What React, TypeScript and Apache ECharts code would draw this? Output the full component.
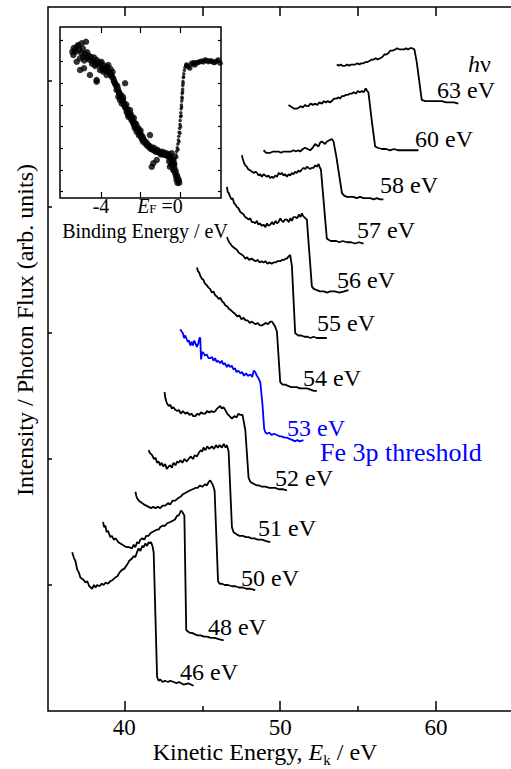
import React, { useEffect, useRef } from "react";
import * as echarts from "echarts";

const FONT = "'Liberation Serif', 'Times New Roman', 'DejaVu Serif', serif";

// ---- axis ticks / labels ----
const kineticMajorTicks = [40, 50, 60];
const kineticMinorTicks = [45, 55];
const kineticTopTicks = [40, 45, 50, 55, 60];
const intensityTicks = [1, 2, 3, 4, 5];
const bindingTicks = [-4, -2, 0];
const bindingLabels = [-4, 0];
const insetIntensityTicks = [0, 1, 2, 3, 4, 5, 6, 7];

// ---- spectra: [kinetic energy (eV), intensity (arb. units, offset)] ----
const photonEnergyLabels = ["46 eV", "48 eV", "50 eV", "51 eV", "52 eV", "53 eV", "54 eV", "55 eV", "56 eV", "57 eV", "58 eV", "60 eV", "63 eV"];

const spec46: [number, number][] = [[36.65,1.26],[36.75,1.22],[36.86,1.19],[36.98,1.12],[37.08,1.10],[37.18,1.06],[37.28,1.05],[37.39,1.04],[37.5,1.02],[37.62,1.03],[37.75,0.99],[37.93,0.97],[38.05,1.00],[38.15,0.98],[38.25,1.00],[38.4,0.99],[38.55,1.01],[38.67,1.00],[38.8,1.02],[38.95,1.01],[39.10,1.03],[39.25,1.04],[39.42,1.06],[39.55,1.07],[39.7,1.10],[39.85,1.12],[40.0,1.13],[40.17,1.16],[40.3,1.19],[40.49,1.21],[40.6,1.23],[40.7,1.22],[40.81,1.26],[40.92,1.29],[41.03,1.27],[41.14,1.31],[41.24,1.30],[41.35,1.33],[41.46,1.31],[41.56,1.34],[41.65,1.33],[41.71,1.34],[41.8,1.31],[41.88,1.26],[42.10,0.27],[42.2,0.24],[42.31,0.25],[42.45,0.23],[42.6,0.24],[42.8,0.23],[42.95,0.24],[43.16,0.23],[43.35,0.22],[43.5,0.23],[43.8,0.21],[44.1,0.22],[44.44,0.20]];

const spec48: [number, number][] = [[38.63,1.50],[38.7,1.46],[38.78,1.47],[38.86,1.42],[38.95,1.43],[39.10,1.38],[39.2,1.39],[39.32,1.36],[39.45,1.37],[39.6,1.34],[39.74,1.33],[39.88,1.32],[40.0,1.31],[40.15,1.30],[40.3,1.30],[40.49,1.29],[40.6,1.32],[40.7,1.30],[40.82,1.34],[40.92,1.33],[41.03,1.36],[41.15,1.37],[41.28,1.36],[41.4,1.39],[41.55,1.39],[41.67,1.41],[41.8,1.42],[41.95,1.43],[42.1,1.44],[42.2,1.44],[42.31,1.46],[42.45,1.47],[42.6,1.47],[42.75,1.49],[42.95,1.50],[43.1,1.51],[43.25,1.52],[43.38,1.55],[43.48,1.55],[43.56,1.57],[43.63,1.59],[43.72,1.58],[43.85,1.55],[43.97,0.64],[44.1,0.63],[44.2,0.62],[44.34,0.62],[44.5,0.61],[44.7,0.60],[44.9,0.60],[45.1,0.59],[45.3,0.59],[45.55,0.58],[45.8,0.58],[46.05,0.57],[46.37,0.56]];

const spec50: [number, number][] = [[40.71,1.74],[40.76,1.71],[40.81,1.69],[40.92,1.67],[41.02,1.66],[41.13,1.65],[41.25,1.64],[41.4,1.63],[41.56,1.62],[41.7,1.61],[41.85,1.62],[41.99,1.61],[42.15,1.62],[42.3,1.61],[42.45,1.63],[42.63,1.63],[42.8,1.65],[42.95,1.64],[43.1,1.67],[43.27,1.67],[43.45,1.69],[43.6,1.70],[43.75,1.72],[43.91,1.73],[44.05,1.74],[44.2,1.75],[44.38,1.76],[44.55,1.77],[44.7,1.77],[44.85,1.79],[45.0,1.78],[45.19,1.80],[45.3,1.79],[45.42,1.82],[45.51,1.83],[45.6,1.81],[45.66,1.80],[45.79,1.75],[46.01,1.03],[46.12,1.01],[46.26,1.01],[46.45,1.00],[46.65,1.00],[46.9,0.99],[47.12,0.99],[47.35,0.98],[47.6,0.98],[47.85,0.97],[48.1,0.97],[48.40,0.96]];

const spec51: [number, number][] = [[41.56,2.07],[41.62,2.05],[41.70,2.04],[41.78,2.03],[41.9,2.00],[42.0,2.01],[42.1,1.97],[42.2,1.98],[42.3,1.95],[42.4,1.97],[42.5,1.94],[42.62,1.96],[42.72,1.92],[42.84,1.94],[42.95,1.95],[43.05,1.93],[43.15,1.97],[43.28,1.95],[43.38,1.98],[43.48,1.97],[43.6,1.99],[43.72,1.97],[43.85,2.00],[44.0,1.98],[44.12,2.00],[44.25,2.02],[44.4,2.00],[44.52,2.03],[44.66,2.02],[44.78,2.05],[44.9,2.07],[45.0,2.06],[45.08,2.09],[45.2,2.07],[45.32,2.10],[45.45,2.08],[45.62,2.10],[45.75,2.08],[45.88,2.11],[46.0,2.09],[46.12,2.11],[46.26,2.09],[46.38,2.12],[46.5,2.09],[46.58,2.11],[46.69,2.06],[46.90,1.46],[47.0,1.42],[47.1,1.41],[47.22,1.40],[47.4,1.39],[47.6,1.39],[47.8,1.38],[47.97,1.38],[48.15,1.37],[48.35,1.37],[48.55,1.36],[48.83,1.36],[49.05,1.35],[49.36,1.34]];

const spec52: [number, number][] = [[42.58,2.53],[42.62,2.49],[42.68,2.46],[42.74,2.44],[42.85,2.42],[42.95,2.43],[43.05,2.40],[43.15,2.41],[43.27,2.39],[43.4,2.38],[43.5,2.39],[43.62,2.36],[43.75,2.38],[43.91,2.36],[44.05,2.37],[44.18,2.35],[44.3,2.36],[44.42,2.34],[44.55,2.34],[44.68,2.36],[44.8,2.35],[44.92,2.37],[45.05,2.36],[45.19,2.36],[45.3,2.38],[45.45,2.37],[45.6,2.38],[45.72,2.37],[45.83,2.38],[45.95,2.40],[46.05,2.41],[46.15,2.42],[46.25,2.40],[46.36,2.41],[46.47,2.39],[46.6,2.36],[46.75,2.34],[46.90,2.32],[47.05,2.34],[47.2,2.33],[47.32,2.36],[47.44,2.35],[47.58,2.35],[47.76,2.23],[47.97,1.85],[48.08,1.82],[48.19,1.81],[48.35,1.80],[48.5,1.79],[48.65,1.79],[48.83,1.78],[49.05,1.78],[49.3,1.77],[49.5,1.77],[49.68,1.77],[49.9,1.76],[50.15,1.76],[50.43,1.75]];

const spec53: [number, number][] = [[43.59,3.03],[43.68,3.01],[43.75,3.00],[43.83,2.96],[43.91,2.98],[44.0,2.95],[44.08,2.93],[44.15,2.94],[44.23,2.90],[44.32,2.93],[44.4,2.90],[44.48,2.94],[44.55,2.92],[44.65,2.89],[44.75,2.92],[44.82,2.96],[44.87,2.96],[44.92,2.79],[45.0,2.85],[45.08,2.84],[45.18,2.82],[45.28,2.83],[45.4,2.80],[45.51,2.80],[45.62,2.81],[45.72,2.78],[45.82,2.80],[45.92,2.77],[46.02,2.78],[46.15,2.76],[46.25,2.78],[46.35,2.75],[46.45,2.76],[46.58,2.73],[46.68,2.75],[46.79,2.73],[46.9,2.74],[47.0,2.71],[47.1,2.72],[47.2,2.69],[47.32,2.70],[47.44,2.68],[47.55,2.69],[47.68,2.66],[47.8,2.68],[47.92,2.66],[48.08,2.67],[48.2,2.65],[48.3,2.70],[48.40,2.69],[48.5,2.66],[48.61,2.64],[48.72,2.61],[48.85,2.45],[48.97,2.24],[49.05,2.21],[49.15,2.20],[49.3,2.21],[49.45,2.19],[49.6,2.20],[49.79,2.19],[49.95,2.18],[50.1,2.18],[50.28,2.17],[50.43,2.17],[50.6,2.16],[50.8,2.15],[50.96,2.14],[51.1,2.15],[51.25,2.14],[51.49,2.15]];

const spec54: [number, number][] = [[44.66,3.52],[44.72,3.49],[44.8,3.48],[44.88,3.45],[44.98,3.43],[45.08,3.42],[45.18,3.39],[45.28,3.38],[45.40,3.36],[45.5,3.35],[45.62,3.32],[45.72,3.33],[45.82,3.30],[45.94,3.29],[46.05,3.27],[46.15,3.28],[46.28,3.25],[46.38,3.24],[46.47,3.22],[46.6,3.21],[46.72,3.19],[46.85,3.18],[47.01,3.16],[47.12,3.15],[47.25,3.13],[47.38,3.14],[47.5,3.11],[47.65,3.12],[47.78,3.10],[47.9,3.10],[48.05,3.08],[48.18,3.09],[48.29,3.08],[48.42,3.07],[48.55,3.08],[48.7,3.06],[48.83,3.06],[48.95,3.07],[49.1,3.08],[49.22,3.07],[49.36,3.09],[49.48,3.09],[49.58,3.07],[49.68,3.05],[49.79,3.01],[50.00,2.61],[50.15,2.59],[50.32,2.59],[50.5,2.58],[50.7,2.57],[50.9,2.57],[51.07,2.57],[51.25,2.56],[51.45,2.56],[51.71,2.56],[51.95,2.55],[52.15,2.54],[52.35,2.54]];

const spec55: [number, number][] = [[46.58,3.76],[46.65,3.74],[46.72,3.72],[46.79,3.71],[46.9,3.69],[47.0,3.68],[47.1,3.67],[47.22,3.66],[47.32,3.64],[47.42,3.63],[47.55,3.62],[47.65,3.61],[47.75,3.59],[47.88,3.60],[48.0,3.58],[48.15,3.59],[48.29,3.58],[48.42,3.57],[48.55,3.58],[48.68,3.56],[48.8,3.57],[48.93,3.56],[49.05,3.57],[49.18,3.55],[49.3,3.56],[49.45,3.55],[49.57,3.56],[49.7,3.56],[49.82,3.57],[50.00,3.57],[50.12,3.58],[50.25,3.58],[50.35,3.59],[50.43,3.59],[50.55,3.61],[50.64,3.62],[50.75,3.53],[50.96,3.00],[51.05,2.99],[51.17,2.98],[51.35,2.98],[51.55,2.97],[51.75,2.97],[51.95,2.96],[52.13,2.97],[52.35,2.96],[52.6,2.96],[52.8,2.96],[52.99,2.96]];

const spec56: [number, number][] = [[46.58,4.16],[46.63,4.12],[46.7,4.11],[46.79,4.08],[46.88,4.06],[46.95,4.07],[47.04,4.03],[47.12,4.02],[47.22,4.00],[47.32,3.99],[47.44,3.96],[47.55,3.95],[47.65,3.94],[47.75,3.92],[47.87,3.91],[47.98,3.90],[48.08,3.91],[48.18,3.88],[48.29,3.88],[48.4,3.87],[48.5,3.89],[48.6,3.86],[48.7,3.87],[48.82,3.85],[48.93,3.86],[49.05,3.84],[49.15,3.87],[49.25,3.85],[49.36,3.86],[49.48,3.88],[49.58,3.86],[49.7,3.89],[49.8,3.87],[49.89,3.88],[50.00,3.91],[50.1,3.89],[50.2,3.88],[50.3,3.90],[50.43,3.90],[50.55,3.88],[50.65,3.91],[50.75,3.89],[50.85,3.92],[50.96,3.92],[51.08,3.91],[51.2,3.94],[51.3,3.92],[51.39,3.95],[51.46,3.93],[51.54,3.92],[51.71,3.90],[52.03,3.37],[52.15,3.35],[52.35,3.34],[52.55,3.33],[52.8,3.33],[53.0,3.32],[53.21,3.33],[53.5,3.33],[53.8,3.32],[54.1,3.33],[54.38,3.34]];

const spec57: [number, number][] = [[47.54,4.41],[47.6,4.38],[47.68,4.35],[47.76,4.33],[47.85,4.32],[47.95,4.30],[48.08,4.29],[48.2,4.28],[48.32,4.27],[48.42,4.28],[48.51,4.27],[48.62,4.25],[48.72,4.26],[48.82,4.24],[48.93,4.26],[49.04,4.25],[49.15,4.24],[49.25,4.25],[49.36,4.23],[49.47,4.24],[49.57,4.23],[49.68,4.25],[49.8,4.24],[49.9,4.27],[50.0,4.26],[50.11,4.27],[50.22,4.25],[50.32,4.26],[50.43,4.24],[50.54,4.26],[50.64,4.25],[50.75,4.27],[50.85,4.26],[50.96,4.28],[51.06,4.27],[51.17,4.29],[51.28,4.28],[51.4,4.30],[51.5,4.31],[51.6,4.30],[51.71,4.32],[51.82,4.31],[51.92,4.30],[52.02,4.31],[52.13,4.31],[52.25,4.33],[52.35,4.32],[52.46,4.34],[52.55,4.31],[52.61,4.30],[52.99,3.75],[53.1,3.74],[53.25,3.73],[53.42,3.73],[53.6,3.73],[53.8,3.72],[54.0,3.73],[54.28,3.72],[54.55,3.72],[54.8,3.71],[55.05,3.72],[55.34,3.71]];

const spec58: [number, number][] = [[48.93,4.45],[49.1,4.43],[49.25,4.43],[49.36,4.43],[49.55,4.44],[49.75,4.44],[49.89,4.44],[50.05,4.43],[50.21,4.44],[50.4,4.44],[50.53,4.44],[50.7,4.44],[50.85,4.45],[51.0,4.44],[51.17,4.45],[51.28,4.44],[51.45,4.46],[51.60,4.47],[51.75,4.46],[51.92,4.45],[52.08,4.47],[52.24,4.50],[52.35,4.49],[52.46,4.48],[52.56,4.51],[52.67,4.52],[52.78,4.51],[52.88,4.50],[53.0,4.52],[53.15,4.53],[53.31,4.54],[53.42,4.52],[53.6,4.40],[53.96,4.11],[54.1,4.09],[54.28,4.08],[54.5,4.08],[54.7,4.08],[54.9,4.07],[55.13,4.08],[55.34,4.07],[55.55,4.07],[55.77,4.07],[56.0,4.06],[56.2,4.07],[56.4,4.06],[56.62,4.06]];

const spec60: [number, number][] = [[50.53,4.81],[50.65,4.80],[50.78,4.79],[50.9,4.78],[51.07,4.78],[51.2,4.79],[51.32,4.80],[51.45,4.79],[51.6,4.81],[51.7,4.80],[51.81,4.80],[51.95,4.82],[52.1,4.81],[52.25,4.82],[52.38,4.81],[52.52,4.83],[52.67,4.82],[52.8,4.84],[52.92,4.83],[53.05,4.84],[53.18,4.83],[53.31,4.84],[53.45,4.86],[53.6,4.86],[53.75,4.87],[53.85,4.86],[53.96,4.88],[54.1,4.88],[54.22,4.89],[54.35,4.89],[54.48,4.90],[54.60,4.90],[54.72,4.91],[54.85,4.90],[54.98,4.92],[55.1,4.91],[55.24,4.92],[55.35,4.91],[55.49,4.94],[55.58,4.92],[55.66,4.91],[55.88,4.68],[56.09,4.48],[56.25,4.47],[56.52,4.46],[56.8,4.46],[57.05,4.45],[57.3,4.46],[57.58,4.45],[57.85,4.45],[58.1,4.45],[58.35,4.45],[58.6,4.45],[58.87,4.45]];

const spec63: [number, number][] = [[53.63,5.13],[53.75,5.12],[53.88,5.13],[54.0,5.12],[54.17,5.12],[54.3,5.13],[54.42,5.12],[54.55,5.13],[54.68,5.13],[54.81,5.13],[54.95,5.14],[55.08,5.13],[55.2,5.14],[55.34,5.14],[55.48,5.15],[55.6,5.15],[55.75,5.16],[55.88,5.17],[56.0,5.17],[56.12,5.18],[56.25,5.17],[56.41,5.18],[56.55,5.19],[56.68,5.21],[56.8,5.21],[56.94,5.22],[57.05,5.24],[57.2,5.24],[57.37,5.25],[57.5,5.26],[57.65,5.25],[57.80,5.25],[57.95,5.25],[58.08,5.26],[58.2,5.25],[58.33,5.26],[58.47,5.26],[58.61,5.25],[58.76,5.15],[59.08,4.85],[59.3,4.84],[59.51,4.84],[59.75,4.84],[60.0,4.84],[60.37,4.84],[60.65,4.83],[60.9,4.83],[61.15,4.83],[61.43,4.82]];

const spectra = [spec46, spec48, spec50, spec51, spec52, spec53, spec54, spec55, spec56, spec57, spec58, spec60, spec63];

// ---- inset: binding energy (eV) vs intensity (arb. units) ----
const insetValence: [number, number][] = [[-5.32,6.53],[-5.15,6.76],[-4.98,6.84],[-4.76,6.91],[-5.40,6.30],[-5.28,6.45],[-5.0,6.40],[-5.23,5.99],[-5.06,6.15],[-4.90,6.22],[-4.85,6.05],[-4.69,6.15],[-4.6,6.25],[-4.56,6.07],[-4.45,5.90],[-4.39,5.99],[-4.3,5.80],[-4.22,6.07],[-4.15,5.95],[-4.05,5.92],[-3.95,5.70],[-3.88,5.84],[-3.8,5.60],[-3.71,5.76],[-3.63,5.84],[-3.6,5.50],[-5.06,5.61],[-4.86,5.69],[-4.56,5.38],[-4.22,5.15],[-4.22,5.07],[-4.05,5.61],[-3.88,5.53],[-3.71,5.38],[-3.54,5.46],[-3.45,5.30],[-3.38,5.23],[-3.35,5.10],[-3.29,5.00],[-3.25,4.90],[-3.21,4.69],[-3.15,4.75],[-3.12,4.38],[-3.08,4.55],[-2.78,5.00],[-3.04,4.23],[-2.98,4.45],[-2.95,4.07],[-2.9,4.25],[-2.85,4.10],[-2.78,3.92],[-2.75,3.85],[-2.70,3.69],[-2.65,3.60],[-2.53,3.76],[-2.58,3.55],[-2.62,3.46],[-2.50,3.40],[-2.45,3.30],[-2.40,3.25],[-2.36,3.15],[-2.32,3.05],[-2.28,2.92],[-2.25,3.00],[-2.19,2.76],[-2.15,2.85],[-2.08,2.60],[-2.03,2.69],[-1.98,2.55],[-1.94,2.46],[-1.90,2.40],[-1.52,2.61],[-1.86,2.30],[-1.78,2.25],[-1.69,2.15],[-1.62,2.10],[-1.52,2.00],[-1.45,1.98],[-1.35,1.92],[-1.28,1.90],[-1.18,1.84],[-1.10,1.82],[-1.01,1.80],[-0.92,1.75],[-0.85,1.77],[-0.75,1.72],[-0.67,1.69],[-0.60,1.62],[-0.51,1.61],[-0.42,1.77],[-1.43,1.15],[-1.35,1.31],[-1.18,1.46],[-0.55,1.40],[-0.45,1.25],[-0.34,1.46],[-0.51,1.15],[-0.34,1.00],[-0.28,1.10],[-0.25,0.85],[-0.20,0.70],[-0.17,0.54],[-0.10,0.60],[-0.04,0.41],
  [-5.45,6.45],[-5.38,6.62],[-5.2,6.70],[-5.1,6.55],[-4.92,6.60],[-4.8,6.35],[-4.7,6.42],[-4.5,6.20],[-4.35,6.18],[-4.28,5.88],[-4.1,5.85],[-3.98,5.98],[-3.9,5.66],[-3.75,5.72],[-3.66,5.58],[-3.52,5.65],[-3.48,5.38],[-3.42,5.52],[-3.32,5.05],[-3.18,4.88],[-3.1,4.62],[-3.02,4.40],[-2.92,4.18],[-2.88,4.35],[-2.82,3.98],[-2.72,4.02],[-2.66,3.80],[-2.56,3.62],[-2.48,3.55],[-2.42,3.38],[-2.34,3.40],[-2.3,3.18],[-2.22,3.12],[-2.12,2.95],[-2.06,2.78],[-2.0,2.82],[-1.96,2.62],[-1.88,2.52],[-1.82,2.38],[-1.74,2.30],[-1.66,2.22],[-1.58,2.12],[-1.5,2.08],[-1.42,1.96],[-1.32,2.02],[-1.25,1.86],[-1.15,1.93],[-1.05,1.85],[-0.97,1.72],[-0.88,1.84],[-0.8,1.70],[-0.72,1.78],[-0.64,1.66],[-0.58,1.74],[-0.48,1.52],[-0.4,1.60],[-0.38,1.32],[-0.3,1.25],[-0.22,0.95],[-0.15,0.75],[-0.12,0.40],[-0.06,0.52]];

const insetEdge: [number, number][] = [[-0.36,0.98],[-0.32,1.10],[-0.29,1.25],[-0.26,1.40],[-0.23,1.55],[-0.2,1.70],[-0.17,1.86],[-0.14,2.02],[-0.11,2.20],[-0.08,2.38],[-0.06,2.56],[-0.04,2.74],[-0.02,2.92],[0.0,3.10],[0.01,3.28],[0.03,3.46],[0.04,3.64],[0.06,3.82],[0.07,4.00],[0.09,4.18],[0.10,4.36],[0.11,4.54],[0.13,4.72],[0.14,4.90],[0.15,5.08],[0.17,5.26],[0.19,5.44],[0.22,5.60],[0.25,5.72],[0.29,5.80],[0.32,5.85],[-0.28,1.0],[-0.22,1.3],[-0.16,1.6],[-0.10,1.95],[-0.05,2.3],[0.0,2.7],[0.03,3.0],[0.06,3.5],[0.08,3.9],[0.11,4.3],[0.13,4.6],[0.16,5.0],[0.18,5.3]];

const insetAboveEF: [number, number][] = [[0.34,5.84],[0.42,5.76],[0.50,5.70],[0.59,5.92],[0.67,5.88],[0.70,5.95],[0.76,5.84],[0.85,5.95],[0.93,5.96],[1.01,5.99],[1.10,6.02],[1.18,5.98],[1.27,6.07],[1.35,6.05],[1.43,5.99],[1.52,6.03],[1.61,6.02],[1.69,5.96],[1.77,5.96],[1.85,6.02],[1.94,6.07],[2.03,5.92]];

const BLUE = "#0000ff";

export default function App() {
  const ref = useRef<HTMLDivElement>(null);

  useEffect(() => {
    if (!ref.current) return;
    const chart = echarts.init(ref.current, undefined, { renderer: "svg" });

    const subRich = {
      n: { fontSize: 24, fontFamily: FONT, color: "#000", lineHeight: 26, verticalAlign: "top" },
      i: { fontSize: 24, fontFamily: FONT, fontStyle: "italic", color: "#000", lineHeight: 26, verticalAlign: "top" },
      s: { fontSize: 15, fontFamily: FONT, color: "#000", lineHeight: 15, verticalAlign: "top", padding: [12, 0, 0, 0] },
    };
    const insetRich = {
      n: { fontSize: 20, fontFamily: FONT, color: "#000", lineHeight: 18, verticalAlign: "top" },
      i: { fontSize: 20, fontFamily: FONT, fontStyle: "italic", color: "#000", lineHeight: 18, verticalAlign: "top" },
      s: { fontSize: 13, fontFamily: FONT, color: "#000", lineHeight: 12, verticalAlign: "top", padding: [6, 0, 0, 0] },
      p: { fontSize: 20, fontFamily: FONT, width: 40, lineHeight: 18, verticalAlign: "top" },
    };

    const lineSeries = spectra.map((d, k) => ({
      type: "line",
      name: photonEnergyLabels[k],
      xAxisIndex: 0,
      yAxisIndex: 0,
      data: d,
      showSymbol: false,
      symbol: "none",
      silent: true,
      lineStyle: { color: photonEnergyLabels[k] === "53 eV" ? BLUE : "#000", width: 1.8 },
      z: 3,
    }));

    const lbl = (text: string, x: number, y: number, color = "#000", size = 24) => ({
      type: "text",
      x,
      y,
      silent: true,
      style: { text, fill: color, fontSize: size, fontFamily: FONT, align: "left", verticalAlign: "middle" },
    });

    const axisCommon = {
      type: "value",
      splitLine: { show: false },
      axisLine: { show: false, onZero: false },
      nameMoveOverlap: false,
    };

    const option: any = {
      animation: false,
      backgroundColor: "#fff",
      grid: [
        { left: 48, top: 7, width: 466, height: 704, outerBoundsMode: "none", containLabel: false, show: true, borderColor: "#000", borderWidth: 1.5, backgroundColor: "transparent" },
        { left: 60, top: 27, width: 161, height: 171, outerBoundsMode: "none", containLabel: false, show: true, borderColor: "#000", borderWidth: 1.5, backgroundColor: "transparent" },
      ],
      xAxis: [
        {
          ...axisCommon, gridIndex: 0, position: "bottom", min: 35.1, max: 65,
          axisTick: { show: true, inside: true, length: 10, customValues: kineticMajorTicks, lineStyle: { color: "#000", width: 1.5 } },
          axisLabel: { show: true, customValues: kineticMajorTicks, margin: 5, fontSize: 23, fontFamily: FONT, color: "#000" },
          name: "{n|Kinetic Energy, }{i|E}{s|k}{n| / eV}",
          nameLocation: "middle",
          nameGap: 29,
          nameTextStyle: { padding: [0, 32, 0, 0], rich: subRich },
        },
        {
          ...axisCommon, gridIndex: 0, position: "bottom", min: 35.1, max: 65,
          axisTick: { show: true, inside: true, length: 5, customValues: kineticMinorTicks, lineStyle: { color: "#000", width: 1.5 } },
          axisLabel: { show: false },
        },
        {
          ...axisCommon, gridIndex: 0, position: "top", min: 35.1, max: 65,
          axisTick: { show: true, inside: true, length: 9, customValues: kineticTopTicks, lineStyle: { color: "#000", width: 1.5 } },
          axisLabel: { show: false },
        },
        {
          ...axisCommon, gridIndex: 1, position: "bottom", min: -6.076, max: 2.076,
          axisTick: { show: true, inside: true, length: 6, customValues: bindingTicks, lineStyle: { color: "#000", width: 1.2 } },
          axisLabel: {
            show: true, customValues: bindingLabels, margin: -2,
            formatter: (v: number) => (v === 0 ? "{i|E}{s|F}{n| =0}{p| }" : "{n|" + String(v) + "}"),
            rich: insetRich,
          },
          name: "{n|Binding Energy / eV}",
          nameLocation: "middle",
          nameGap: 23,
          nameTextStyle: { padding: [0, 0, 0, 9], rich: insetRich },
        },
        {
          ...axisCommon, gridIndex: 1, position: "top", min: -6.076, max: 2.076,
          axisTick: { show: true, inside: true, length: 6, customValues: bindingTicks, lineStyle: { color: "#000", width: 1.2 } },
          axisLabel: { show: false },
        },
      ],
      yAxis: [
        {
          ...axisCommon, gridIndex: 0, position: "left", min: 0, max: 5.587,
          axisTick: { show: true, inside: true, length: 4, customValues: intensityTicks, lineStyle: { color: "#000", width: 1.5 } },
          axisLabel: { show: false },
          name: "Intensity / Photon Flux (arb. units)",
          nameLocation: "middle",
          nameGap: 11,
          nameTextStyle: { fontSize: 24, fontFamily: FONT, color: "#000", padding: [0, 0, 0, 58] },
        },
        {
          ...axisCommon, gridIndex: 1, position: "left", min: -0.29, max: 7.59,
          axisTick: { show: true, inside: true, length: 3, customValues: insetIntensityTicks, lineStyle: { color: "#000", width: 1.2 } },
          axisLabel: { show: false },
        },
        {
          ...axisCommon, gridIndex: 1, position: "right", min: -0.29, max: 7.59,
          axisTick: { show: true, inside: true, length: 3, customValues: insetIntensityTicks, lineStyle: { color: "#000", width: 1.2 } },
          axisLabel: { show: false },
        },
      ],
      series: [
        ...lineSeries,
        { type: "scatter", xAxisIndex: 3, yAxisIndex: 1, data: insetValence, symbol: "circle", symbolSize: 6.5, itemStyle: { color: "#000" }, silent: true },
        { type: "scatter", xAxisIndex: 3, yAxisIndex: 1, data: insetEdge, symbol: "circle", symbolSize: 3.5, itemStyle: { color: "#000" }, silent: true },
        { type: "scatter", xAxisIndex: 3, yAxisIndex: 1, data: insetAboveEF, symbol: "circle", symbolSize: 5.5, itemStyle: { color: "#000" }, silent: true },
      ],
      graphic: [
        {
          type: "text", x: 468, y: 64, silent: true,
          style: {
            text: "{i|h}{n|ν}", align: "left", verticalAlign: "middle", fontSize: 24, fontFamily: FONT, fill: "#000",
            rich: { i: { fontStyle: "italic", fontSize: 24, fontFamily: FONT }, n: { fontSize: 24, fontFamily: FONT } },
          },
        },
        lbl("63 eV", 437, 90),
        lbl("60 eV", 415, 139),
        lbl("58 eV", 380, 185),
        lbl("57 eV", 357, 230),
        lbl("56 eV", 337, 280),
        lbl("55 eV", 317, 323),
        lbl("54 eV", 303, 378),
        lbl("53 eV", 287, 428, BLUE),
        lbl("Fe 3p threshold", 320, 452, BLUE, 26),
        lbl("52 eV", 275, 478),
        lbl("51 eV", 258, 528),
        lbl("50 eV", 241, 578),
        lbl("48 eV", 208, 627),
        lbl("46 eV", 180, 672),
      ],
    };

    chart.setOption(option);
    return () => chart.dispose();
  }, []);

  return (
    <div
      ref={ref}
      style={{ position: "fixed", left: 0, top: 0, width: 511, height: 769, background: "#fff", overflow: "hidden" }}
    />
  );
}
